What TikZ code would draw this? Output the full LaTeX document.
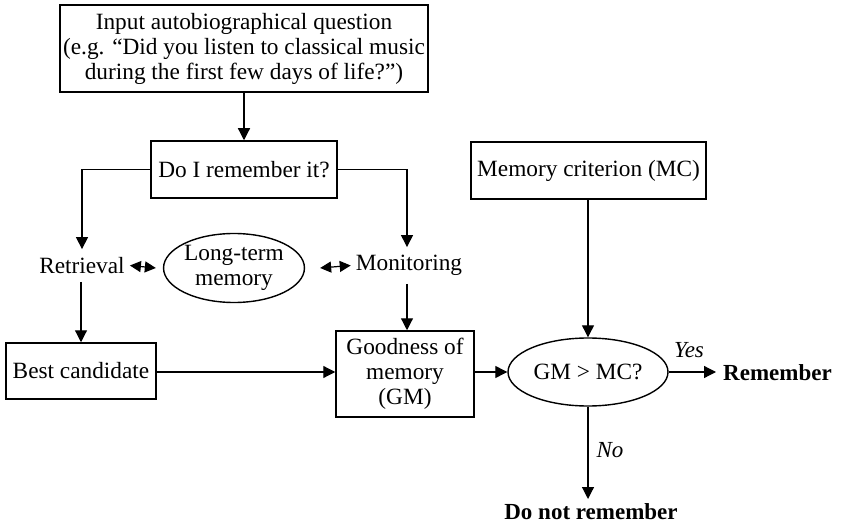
\documentclass[tikz,border=0pt]{standalone}
\usepackage{fontspec}
\setmainfont{Liberation Serif}
\usetikzlibrary{arrows.meta,shapes.geometric}

\tikzset{
  box/.style={draw, line width=1.5pt, rectangle, align=center, inner sep=0pt},
  oval/.style={draw, line width=1.4pt, ellipse, align=center, inner sep=0pt},
  plain/.style={inner xsep=5pt, inner ysep=8pt},
  arr/.style={line width=1.2pt, -{Triangle[length=12pt,width=12pt]}},
  darr/.style={line width=1.2pt, {Triangle[length=11pt,width=11pt]}-{Triangle[length=11pt,width=11pt]}},
  lab/.style={font=\itshape\fontsize{23}{25}\selectfont, inner sep=0pt},
  result/.style={inner sep=0pt, font=\bfseries\fontsize{23}{25}\selectfont},
}

\begin{document}
\begin{tikzpicture}[x=1pt, y=-1pt, font=\fontsize{23.3}{25}\selectfont]
\useasboundingbox (0,0) rectangle (845,526);

% boxes
\node[box, minimum width=368, minimum height=87] (input) at (244,48.5)
  {Input autobiographical question\\(e.g. “Did you listen to classical music\\during the first few days of life?”)};
\node[box, minimum width=186, minimum height=57] (doi) at (244,169.5) {Do I remember it?};
\node[box, minimum width=235, minimum height=57] (mc) at (588.5,170.5) {Memory criterion (MC)};
\node[box, minimum width=150, minimum height=56] (best) at (81,371) {Best candidate};
\node[box, minimum width=138, minimum height=86] (gm) at (405,374) {Goodness of\\memory\\(GM)};

% processes and memory store
\node[plain] (retr) at (82,265.5) {Retrieval};
\node[plain] (mon) at (409,265.5) {Monitoring};
\node[oval, minimum width=118, minimum height=69] (ltm) at (234,268) {Long-term\\memory};

% decision
\node[oval, minimum width=160, minimum height=68] (dec) at (588,372) {GM > MC?};
\node[result, anchor=west] (rem) at (723,373) {Remember};
\node[result, anchor=base] (nrem) at (591,519) {Do not remember};
\coordinate (remin) at (716,372);
\coordinate (nremin) at (588,499);

% connectors
\draw[arr] (input.south) -- (doi.north);
\draw[arr] (doi.west) -| (retr.north);
\draw[arr] (doi.east) -| (mon.north -| 407,0);
\draw[darr] (retr.east) -- ([xshift=-7pt]ltm.west);
\draw[darr] ([xshift=15pt]ltm.east) -- (mon.west);
\draw[arr] (retr.south -| best.north) -- (best.north);
\draw[arr] (mon.south -| 407,0) -- (gm.north -| 407,0);
\draw[arr] (best.east |- dec.west) -- (gm.west |- dec.west);
\draw[arr] (gm.east |- dec.west) -- (dec.west);
\draw[arr] (mc.south -| dec.north) -- (dec.north);
\draw[arr] (dec.east) -- (remin);
\draw[arr] (dec.south) -- (nremin);

% branch labels
\node[lab] (yes) at (689,350) {Yes};
\node[lab] (no) at (610,450) {No};
\end{tikzpicture}
\end{document}
